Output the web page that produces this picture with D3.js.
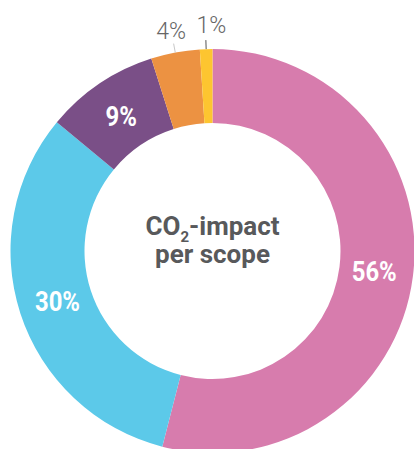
<!DOCTYPE html>
<html>
<head>
<meta charset="utf-8">
<script src="https://cdn.jsdelivr.net/npm/d3@7"></script>
<style>
  body { margin: 0; background: #fff; }
  svg { display: block; font-family: Roboto, "Noto Sans", sans-serif; }
</style>
</head>
<body>
<div id="chart"></div>
<script>
// scopes, clockwise from the top
var scopes = ["Scope A", "Scope B", "Scope C", "Scope D", "Scope E"];
// arc sizes as drawn in the picture (the printed labels are rounded differently)
var shares = [54, 32, 9.1, 3.9, 1];
var labels = ["56%", "30%", "9%", "4%", "1%"];
var sliceColors = ["#d77cad", "#5cc9e9", "#7a4f87", "#ec9242", "#fdc530"];
var outside = [false, false, false, true, true];

var width = 414, height = 449;
var cx = 212.5, cy = 251;
var rOuter = 202, rInner = 128;

var svg = d3.select("#chart").append("svg")
    .attr("width", width)
    .attr("height", height);

var g = svg.append("g").attr("transform", "translate(" + cx + "," + cy + ")");

var data = scopes.map((s, i) => ({ name: s, value: shares[i], label: labels[i], color: sliceColors[i], out: outside[i] }));

var pie = d3.pie().value(d => d.value).sort(null);
var arc = d3.arc().innerRadius(rInner).outerRadius(rOuter);
var arcs = pie(data);

g.selectAll("path.slice")
  .data(arcs)
  .enter().append("path")
    .attr("class", "slice")
    .attr("d", arc)
    .attr("fill", d => d.data.color);

// labels inside the ring (slightly condensed, like the original type)
var midArc = d3.arc().innerRadius(163).outerRadius(163);
g.selectAll("text.inner")
  .data(arcs.filter(d => !d.data.out))
  .enter().append("text")
    .attr("class", "inner")
    .attr("transform", d => "translate(" + midArc.centroid(d) + ") scale(0.92,1.05)")
    .attr("dy", "0.36em")
    .attr("text-anchor", "middle")
    .attr("fill", "#fff")
    .attr("font-weight", 700)
    .attr("font-size", 26)
    .text(d => d.data.label);

// small slices: label outside with a thin leader
var outArcs = arcs.filter(d => d.data.out);
var leaderIn = d3.arc().innerRadius(rOuter).outerRadius(rOuter);
var leaderOut = d3.arc().innerRadius(rOuter + 9).outerRadius(rOuter + 9);
g.selectAll("line.leader")
  .data(outArcs)
  .enter().append("line")
    .attr("class", "leader")
    .attr("x1", d => leaderIn.centroid(d)[0])
    .attr("y1", d => leaderIn.centroid(d)[1])
    .attr("x2", d => leaderOut.centroid(d)[0])
    .attr("y2", d => leaderOut.centroid(d)[1])
    .attr("stroke", (d, i) => i === 0 ? "#c8c8c8" : "#555")
    .attr("stroke-width", 1);

var labelArc = d3.arc().innerRadius(rOuter + 22).outerRadius(rOuter + 22);
g.selectAll("text.outer")
  .data(outArcs)
  .enter().append("text")
    .attr("class", "outer")
    .attr("x", (d, i) => labelArc.centroid(d)[0] + (i === 0 ? 0 : 6))
    .attr("y", (d, i) => labelArc.centroid(d)[1] + (i === 0 ? 0 : -2))
    .attr("dy", "0.36em")
    .attr("text-anchor", "middle")
    .attr("fill", "#666")
    .attr("font-weight", 300)
    .attr("font-size", 23)
    .text(d => d.data.label);

// centre title
var title = g.append("text")
    .attr("text-anchor", "middle")
    .attr("fill", "#58595b")
    .attr("font-weight", 700)
    .attr("font-size", 26);
var t1 = title.append("tspan").attr("x", 0).attr("y", -16);
t1.append("tspan").text("CO");
t1.append("tspan").attr("font-size", 15).attr("dy", 7).text("2");
t1.append("tspan").attr("dy", -7).text("-impact");
title.append("tspan").attr("x", 0).attr("y", 12).text("per scope");
</script>
</body>
</html>
